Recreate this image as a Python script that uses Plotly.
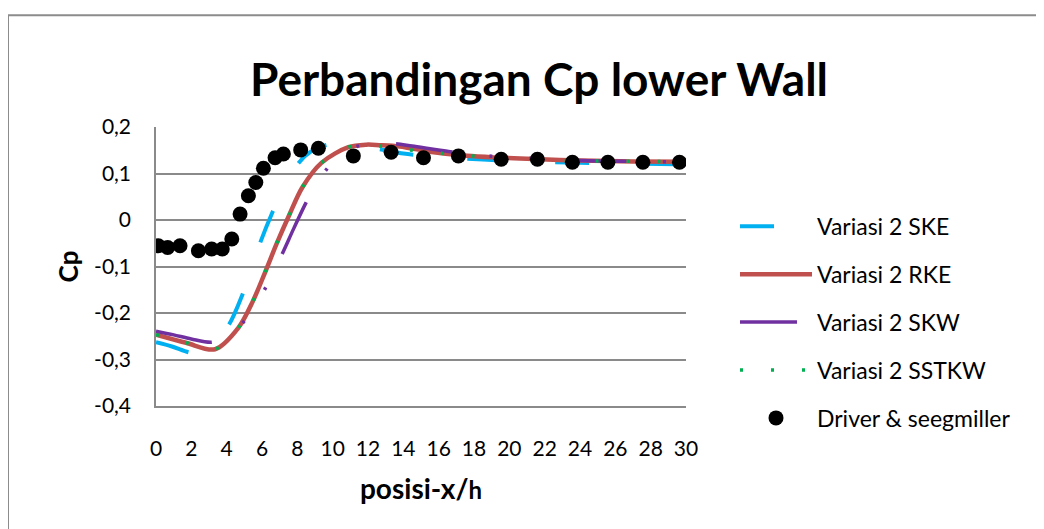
import plotly.graph_objects as go

# ---- data ----
ske_x = [0, 0.9, 1.83, 2.5, 3.2, 4.13, 4.89, 5.89, 6.61, 7.3, 8.06, 8.8, 9.67, 10.5, 11.5, 13, 14, 16, 18.5, 21, 24, 27, 30]
ske_y = [-0.263, -0.272, -0.2845, -0.289, -0.268, -0.225, -0.1606, -0.0496, 0.0182, 0.075, 0.122, 0.148, 0.1614, 0.164, 0.160, 0.150, 0.143, 0.136, 0.130, 0.126, 0.123, 0.121, 0.120]

rke_x = [0, 1.7, 3.34, 4.66, 5.48, 6.17, 6.83, 7.53, 8.28, 9.38, 10.89, 11.9, 12.64, 13.8, 15.5, 17.6, 19.5, 21.4, 24, 27, 30]
rke_y = [-0.2465, -0.264, -0.278, -0.232, -0.175, -0.113, -0.051, 0.0097, 0.070, 0.1234, 0.1565, 0.162, 0.161, 0.158, 0.147, 0.138, 0.134, 0.131, 0.128, 0.126, 0.1255]

skw_x = [0, 1, 2, 3.15, 4.0, 4.94, 5.6, 6.17, 7.12, 7.8, 8.48, 9.0, 9.63, 10.4, 11.36, 12.4, 13.53, 14.5, 16.65, 19, 21.5, 24, 27, 30]
skw_y = [-0.239, -0.247, -0.256, -0.263, -0.252, -0.22, -0.185, -0.148, -0.0747, -0.018, 0.0363, 0.072, 0.1078, 0.140, 0.158, 0.164, 0.164, 0.159, 0.147, 0.137, 0.132, 0.128, 0.126, 0.125]

sst_x = [0, 1.7, 3.38, 4.66, 5.48, 6.17, 6.83, 7.53, 8.28, 9.38, 10.89, 12.0, 12.64, 14.38, 16.14, 17.88, 20, 23.2, 24.95, 26.7, 28.46, 30]
sst_y = [-0.2465, -0.264, -0.277, -0.232, -0.175, -0.113, -0.051, 0.0097, 0.070, 0.1234, 0.1565, 0.161, 0.159, 0.1507, 0.1436, 0.1378, 0.133, 0.1278, 0.127, 0.1264, 0.126, 0.125]

ds_x = [0.13, 0.66, 1.36, 2.40, 3.15, 3.75, 4.29, 4.76, 5.23, 5.65, 6.08, 6.74, 7.21, 8.19, 9.19,
        11.17, 13.31, 15.14, 17.12, 19.54, 21.59, 23.57, 25.58, 27.56, 29.63]
ds_y = [-0.0554, -0.059, -0.0554, -0.0661, -0.0625, -0.0625, -0.041, 0.0127, 0.052, 0.0805, 0.1114, 0.134, 0.142, 0.1507, 0.1544,
        0.1378, 0.1458, 0.134, 0.1378, 0.1307, 0.1307, 0.1243, 0.1243, 0.1243, 0.1243]

x_ticks = list(range(0, 31, 2))
x_ticklabels = [str(v) for v in x_ticks]
y_ticks = [0.2, 0.1, 0, -0.1, -0.2, -0.3, -0.4]
y_ticklabels = ["0,2", "0,1", "0", "-0,1", "-0,2", "-0,3", "-0,4"]

FONT = "Lato"
GRID = "#8a8a8a"

fig = go.Figure()
fig.add_trace(go.Scatter(x=ske_x, y=ske_y, mode="lines", name="Variasi 2 SKE", legendgroup="a",
                         line=dict(color="#00B0F0", width=4, dash="34px,54px", shape="spline", smoothing=0.9)))
fig.add_trace(go.Scatter(x=rke_x, y=rke_y, mode="lines", name="Variasi 2 RKE", legendgroup="b",
                         line=dict(color="#C0504D", width=4.5, shape="spline", smoothing=0.9)))
fig.add_trace(go.Scatter(x=skw_x, y=skw_y, mode="lines", name="Variasi 2 SKW", legendgroup="c",
                         line=dict(color="#7030A0", width=3.5, dash="57px,37px,3px,37px,3px,37px", shape="spline", smoothing=0.9)))
fig.add_trace(go.Scatter(x=sst_x, y=sst_y, mode="lines", name="Variasi 2 SSTKW", legendgroup="d",
                         line=dict(color="#00B050", width=3.5, dash="3px,28px", shape="spline", smoothing=0.9)))
fig.add_trace(go.Scatter(x=ds_x, y=ds_y, mode="markers", name="Driver &amp; seegmiller", legendgroup="e",
                         marker=dict(color="black", size=15, line=dict(width=0))))

# page body adds an 8px offset; target screen positions are compensated
OFF = 8
W, H = 1044, 529
L, R, T, B = 156 - OFF, 686 - OFF, 127 - OFF, 406.5 - OFF
pw, ph = R - L, B - T

def px2paper_x(px):
    return (px - OFF - L) / pw

def px2paper_y(py):
    return (B - (py - OFF)) / ph

fig.update_layout(
    width=W, height=H,
    margin=dict(l=L, r=W - R, t=T, b=H - B, pad=0),
    paper_bgcolor="white", plot_bgcolor="white",
    font=dict(family=FONT, color="black", size=21),
    title=dict(text="<b>Perbandingan Cp lower Wall</b>", x=px2paper_x(539), xref="paper", xanchor="center",
               y=1 - (80 - OFF) / H, yanchor="middle", font=dict(size=46, family=FONT, color="black")),
    xaxis=dict(range=[0, 30], tickvals=x_ticks, ticktext=x_ticklabels, showgrid=False, zeroline=False,
               showline=True, linecolor=GRID, linewidth=1.5, ticks="", ticklabelstandoff=23,
               tickfont=dict(size=21, family=FONT),
               title=dict(text="<b>posisi-x/</b><b><span style='font-size:24px'>h</span></b>", standoff=20,
                          font=dict(size=28, family=FONT))),
    yaxis=dict(range=[-0.4, 0.2], tickvals=y_ticks, ticktext=y_ticklabels, showgrid=True, gridcolor=GRID,
               gridwidth=1.5, zeroline=False, showline=True, linecolor=GRID, linewidth=1.5, ticks="",
               ticklabelstandoff=19, tickfont=dict(size=21, family=FONT),
               title=dict(text="<b>Cp</b>", standoff=8, font=dict(size=26, family=FONT))),
    legend=dict(x=px2paper_x(735), y=px2paper_y(205), xanchor="left", yanchor="top",
                font=dict(size=23, family=FONT), tracegroupgap=15, itemwidth=72,
                bgcolor="rgba(0,0,0,0)", traceorder="grouped"),
    shapes=[dict(type="rect", xref="paper", yref="paper",
                 x0=px2paper_x(8), y0=px2paper_y(560), x1=px2paper_x(1070), y1=px2paper_y(15),
                 line=dict(color="#8c8c8c", width=2), fillcolor="rgba(0,0,0,0)", layer="below")],
)

fig.write_html("out.html")
